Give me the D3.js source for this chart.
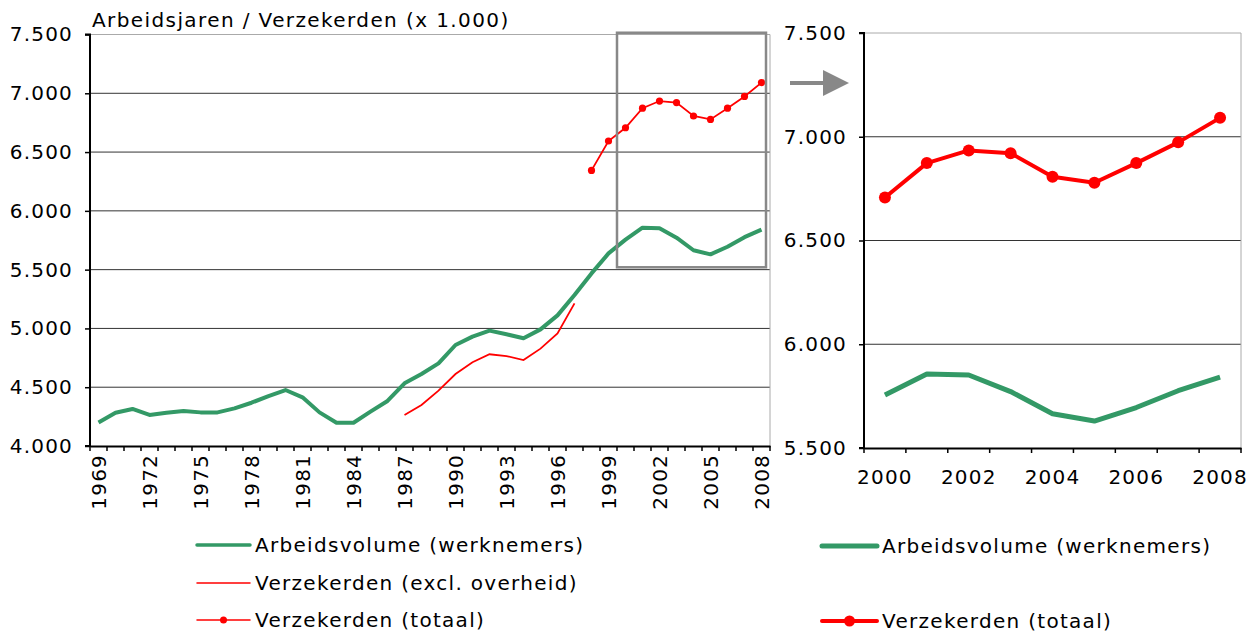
<!DOCTYPE html>
<html>
<head>
<meta charset="utf-8">
<title>Arbeidsjaren / Verzekerden</title>
<style>
  body { margin: 0; background: #fff; }
  svg text { font-family: "DejaVu Sans", Verdana, sans-serif; fill: #000; }
</style>
</head>
<body>
<div id="board"></div>
<script src="https://cdn.jsdelivr.net/npm/d3@7/dist/d3.min.js"></script>
<script>
// data (x 1.000)
var years = d3.range(1969, 2009);
var arbeidsvolume = [4200, 4283, 4315, 4264, 4283, 4298, 4286, 4286, 4320, 4368,
                     4425, 4476, 4414, 4286, 4198, 4198, 4292, 4383, 4533, 4612,
                     4703, 4859, 4930, 4981, 4950, 4916, 4992, 5111, 5284, 5468,
                     5638, 5755, 5857, 5852, 5772, 5665, 5630, 5695, 5776, 5841];
var exclYears = d3.range(1987, 1998);
var verzExcl = [4264, 4349, 4471, 4612, 4712, 4780, 4765, 4731, 4828, 4958, 5213];
var totYears = d3.range(1998, 2009);
var verzTotaal = [6344, 6594, 6707, 6873, 6934, 6921, 6807, 6778, 6873, 6973, 7091];
var leftTicks = [4000, 4500, 5000, 5500, 6000, 6500, 7000, 7500];
var rightTicks = [5500, 6000, 6500, 7000, 7500];
var zoomYears = d3.range(2000, 2009);

var green = '#339966', red = '#ff0000';
var nl = d3.formatLocale({decimal: ',', thousands: '.', grouping: [3], currency: ['', '']});
var fmt = nl.format(',d');
var FS = '20px', LS = '1.2px';

var svg = d3.select('#board').append('svg').attr('width', 1258).attr('height', 634);

// ---------- left chart ----------
var xL = d3.scaleBand().domain(years).range([90, 770]);
var yL = d3.scaleLinear().domain([4000, 7500]).range([446, 34.5]);
var gL = svg.append('g');

gL.selectAll('.grid').data(leftTicks.slice(1)).enter().append('line')
  .attr('x1', 90).attr('x2', 770)
  .attr('y1', function(d){ return yL(d); }).attr('y2', function(d){ return yL(d); })
  .attr('stroke', function(d){ return d == 7500 ? '#aaa' : '#333'; }).attr('stroke-width', 1);
gL.append('line').attr('x1', 770).attr('x2', 770).attr('y1', yL(7500)).attr('y2', yL(4000))
  .attr('stroke', '#aaa');

var yAxisL = gL.append('g').attr('transform', 'translate(90,0)')
  .call(d3.axisLeft(yL).tickValues(leftTicks).tickFormat(fmt).tickSize(5).tickPadding(12));
var xAxisL = gL.append('g').attr('transform', 'translate(0,446)')
  .call(d3.axisBottom(xL).tickSize(0).tickFormat(function(d){ return (d - 1969) % 3 == 0 ? d : ''; }));
xAxisL.selectAll('.tick text')
  .attr('transform', 'rotate(-90)').attr('text-anchor', 'end')
  .attr('x', -8).attr('y', 0).attr('dy', '0.35em');
// tick marks between categories
xAxisL.selectAll('.sep').data(years.concat([2009])).enter().append('line')
  .attr('x1', function(d){ return d == 2009 ? 770 : xL(d); })
  .attr('x2', function(d){ return d == 2009 ? 770 : xL(d); })
  .attr('y1', 0).attr('y2', 5).attr('stroke', '#000').attr('stroke-width', 1.5);

[yAxisL, xAxisL].forEach(function(a){
  a.select('.domain').attr('stroke', '#000').attr('stroke-width', 2);
  a.selectAll('.tick line').attr('stroke', '#000').attr('stroke-width', 1.5);
  a.selectAll('text').style('font-size', FS).style('letter-spacing', LS).attr('fill', '#000');
});
yAxisL.select('.domain').attr('d', 'M-5,' + yL(7500) + 'H0V' + yL(4000) + 'H-5');

var lineL = function(xs){
  return d3.line().x(function(d, i){ return xL(xs[i]) + xL.bandwidth() / 2; })
                  .y(function(d){ return yL(d); });
};
gL.append('path').datum(arbeidsvolume).attr('d', lineL(years))
  .attr('fill', 'none').attr('stroke', green).attr('stroke-width', 4).attr('stroke-linejoin', 'round');
gL.append('path').datum(verzExcl).attr('d', lineL(exclYears))
  .attr('fill', 'none').attr('stroke', red).attr('stroke-width', 1.8);
gL.append('path').datum(verzTotaal).attr('d', lineL(totYears))
  .attr('fill', 'none').attr('stroke', red).attr('stroke-width', 1.8);
gL.selectAll('.dot').data(verzTotaal).enter().append('circle')
  .attr('cx', function(d, i){ return xL(totYears[i]) + xL.bandwidth() / 2; })
  .attr('cy', function(d){ return yL(d); })
  .attr('r', 3.6).attr('fill', red);

// zoom frame
gL.append('rect')
  .attr('x', xL(2000)).attr('y', yL(7515))
  .attr('width', 766 - xL(2000)).attr('height', yL(5520) - yL(7515))
  .attr('fill', 'none').attr('stroke', '#888').attr('stroke-width', 2.5);

gL.append('text').attr('x', 92).attr('y', 27).style('font-size', FS)
  .style('letter-spacing', '1.4px')
  .text('Arbeidsjaren / Verzekerden (x 1.000)');

// ---------- arrow ----------
svg.append('line').attr('x1', 790).attr('x2', 826).attr('y1', 83).attr('y2', 83)
  .attr('stroke', '#888').attr('stroke-width', 4);
svg.append('path').attr('d', 'M823,70L849,83L823,96Z').attr('fill', '#888');

// ---------- right chart ----------
var xR = d3.scaleBand().domain(zoomYears).range([864, 1241]);
var yR = d3.scaleLinear().domain([5500, 7500]).range([448, 33]);
var gR = svg.append('g');

gR.selectAll('.grid').data(rightTicks.slice(1)).enter().append('line')
  .attr('x1', 864).attr('x2', 1241)
  .attr('y1', function(d){ return yR(d); }).attr('y2', function(d){ return yR(d); })
  .attr('stroke', function(d){ return d == 7500 ? '#aaa' : '#333'; }).attr('stroke-width', 1);
gR.append('line').attr('x1', 1241).attr('x2', 1241).attr('y1', yR(7500)).attr('y2', yR(5500))
  .attr('stroke', '#aaa');

var yAxisR = gR.append('g').attr('transform', 'translate(864,0)')
  .call(d3.axisLeft(yR).tickValues(rightTicks).tickFormat(fmt).tickSize(5).tickPadding(12));
var xAxisR = gR.append('g').attr('transform', 'translate(0,448)')
  .call(d3.axisBottom(xR).tickSize(0).tickPadding(22)
    .tickFormat(function(d){ return d % 2 == 0 ? d : ''; }));
xAxisR.selectAll('.sep').data(zoomYears.concat([2009])).enter().append('line')
  .attr('x1', function(d){ return d == 2009 ? 1241 : xR(d); })
  .attr('x2', function(d){ return d == 2009 ? 1241 : xR(d); })
  .attr('y1', 0).attr('y2', 5).attr('stroke', '#000').attr('stroke-width', 1.5);
[yAxisR, xAxisR].forEach(function(a){
  a.select('.domain').attr('stroke', '#000').attr('stroke-width', 2);
  a.selectAll('.tick line').attr('stroke', '#000').attr('stroke-width', 1.5);
  a.selectAll('text').style('font-size', FS).style('letter-spacing', LS).attr('fill', '#000');
});
yAxisR.select('.domain').attr('d', 'M-5,' + yR(7500) + 'H0V' + yR(5500) + 'H-5');

var lineR = d3.line().x(function(d){ return xR(d.year) + xR.bandwidth() / 2; })
                     .y(function(d){ return yR(d.v); });
var greenZoom = zoomYears.map(function(y){ return {year: y, v: arbeidsvolume[years.indexOf(y)]}; });
var redZoom = zoomYears.map(function(y){ return {year: y, v: verzTotaal[totYears.indexOf(y)]}; });

gR.append('path').datum(greenZoom).attr('d', lineR)
  .attr('fill', 'none').attr('stroke', green).attr('stroke-width', 5).attr('stroke-linejoin', 'round');
gR.append('path').datum(redZoom).attr('d', lineR)
  .attr('fill', 'none').attr('stroke', red).attr('stroke-width', 4).attr('stroke-linejoin', 'round');
gR.selectAll('.dot').data(redZoom).enter().append('circle')
  .attr('cx', function(d){ return xR(d.year) + xR.bandwidth() / 2; })
  .attr('cy', function(d){ return yR(d.v); })
  .attr('r', 6).attr('fill', red);

// ---------- legends ----------
var legL = [
  {name: 'Arbeidsvolume (werknemers)', color: green, w: 3.5, dot: 0, y: 545},
  {name: 'Verzekerden (excl. overheid)', color: red, w: 1.5, dot: 0, y: 583},
  {name: 'Verzekerden (totaal)', color: red, w: 1.5, dot: 3.5, y: 620}
];
var legR = [
  {name: 'Arbeidsvolume (werknemers)', color: green, w: 5, dot: 0, y: 546},
  {name: 'Verzekerden (totaal)', color: red, w: 4, dot: 5.5, y: 621}
];
function legend(items, x0, x1){
  var g = svg.append('g');
  var it = g.selectAll('g').data(items).enter().append('g');
  it.append('line').attr('x1', x0).attr('x2', x1)
    .attr('y1', function(d){ return d.y; }).attr('y2', function(d){ return d.y; })
    .attr('stroke', function(d){ return d.color; })
    .attr('stroke-width', function(d){ return d.w; }).attr('stroke-linecap', 'round');
  it.filter(function(d){ return d.dot > 0; }).append('circle')
    .attr('cx', (x0 + x1) / 2).attr('cy', function(d){ return d.y; })
    .attr('r', function(d){ return d.dot; }).attr('fill', function(d){ return d.color; });
  it.append('text').attr('x', x1 + 5).attr('y', function(d){ return d.y; }).attr('dy', '0.35em')
    .style('font-size', FS).style('letter-spacing', '1.3px')
    .text(function(d){ return d.name; });
}
legend(legL, 197, 250);
legend(legR, 822, 877);
</script>
</body>
</html>
